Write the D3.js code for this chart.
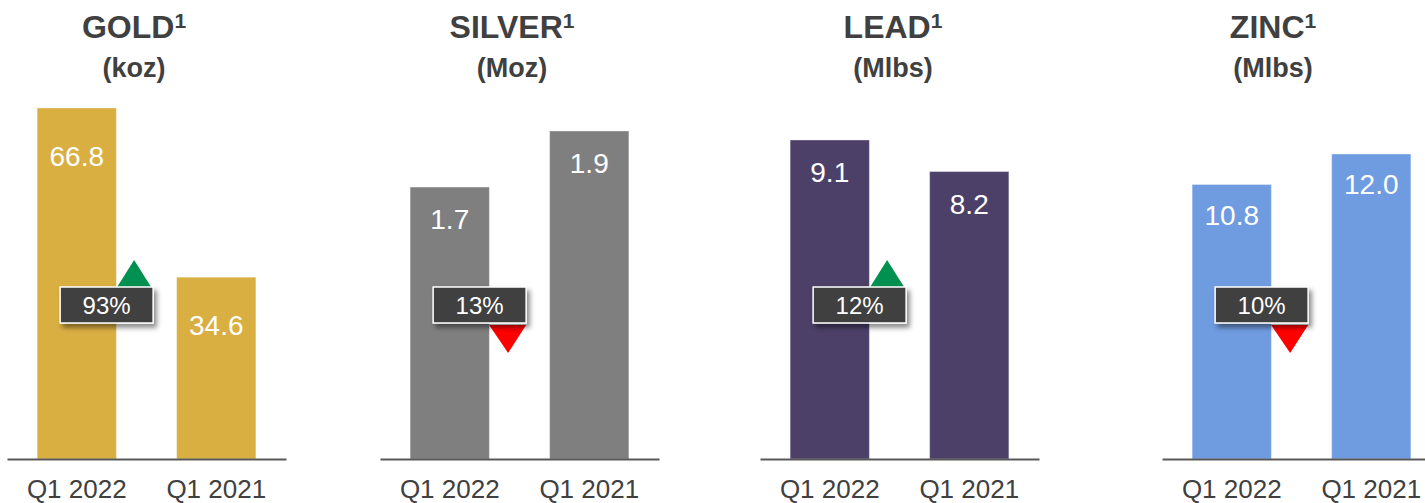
<!DOCTYPE html>
<html>
<head>
<meta charset="utf-8">
<script src="https://cdn.jsdelivr.net/npm/d3@7"></script>
<style>
  body { margin: 0; background: #fff; }
  text { font-family: "Liberation Sans", Arial, sans-serif; }
</style>
</head>
<body>
<div id="canvas"></div>
<script>
const width = 1425;
const height = 503;

// data
const metals = ["GOLD", "SILVER", "LEAD", "ZINC"];
const units = ["(koz)", "(Moz)", "(Mlbs)", "(Mlbs)"];
const periods = ["Q1 2022", "Q1 2021"];
const q1_2022 = [66.8, 1.7, 9.1, 10.8];
const q1_2021 = [34.6, 1.9, 8.2, 12.0];
const changePct = [93, -13, 12, -10];

const colors = ["#D9AF42", "#7F7F7F", "#4C4069", "#6F9CE0"];

// layout of each small panel
const panelLeft = [7, 380, 760, 1162];
const panelWidth = 279;
const titleX = [134, 512, 893, 1273];
const barTop = [108, 131, 140, 154];
const domainMin = [0, 0.73, 0, 0];
const labelDrop = [58, 42, 42, 40];
const baseline = 459;

const svg = d3.select("#canvas")
    .append("svg")
    .attr("width", width)
    .attr("height", height);

// shadow for the % boxes
const shadow = svg.append("defs").append("filter")
    .attr("id", "shadow")
    .attr("x", "-20%").attr("y", "-20%")
    .attr("width", "150%").attr("height", "160%");
shadow.append("feDropShadow")
    .attr("dx", 3)
    .attr("dy", 4)
    .attr("stdDeviation", 2.5)
    .attr("flood-color", "#000")
    .attr("flood-opacity", 0.45);

const fmt = d3.format(".1f");

metals.forEach(function(metal, i) {
    const vals = [q1_2022[i], q1_2021[i]];
    const g = svg.append("g").attr("transform", `translate(${panelLeft[i]},0)`);

    const x = d3.scaleBand()
        .domain(periods)
        .range([0, panelWidth])
        .paddingInner(0.432)
        .paddingOuter(0.216);

    const y = d3.scaleLinear()
        .domain([domainMin[i], d3.max(vals)])
        .range([baseline, barTop[i]]);

    // title
    const tx = titleX[i] - panelLeft[i];
    const title = g.append("text")
        .attr("x", tx)
        .attr("y", 38)
        .attr("text-anchor", "middle")
        .attr("font-size", 32)
        .attr("font-weight", "bold")
        .attr("fill", "#404040");
    title.append("tspan").text(metal);
    title.append("tspan")
        .attr("font-size", 21)
        .attr("dy", -10)
        .text("1");

    g.append("text")
        .attr("x", tx)
        .attr("y", 77)
        .attr("text-anchor", "middle")
        .attr("font-size", 27)
        .attr("font-weight", "bold")
        .attr("fill", "#404040")
        .text(units[i]);

    // bars
    g.selectAll(".bar")
        .data(vals)
        .join("rect")
        .attr("class", "bar")
        .attr("x", (d, j) => x(periods[j]))
        .attr("y", d => y(d))
        .attr("width", x.bandwidth())
        .attr("height", d => baseline - y(d))
        .attr("fill", colors[i])
        .attr("stroke", "#ffffff")
        .attr("stroke-opacity", 0.35)
        .attr("stroke-width", 1);

    g.selectAll(".val")
        .data(vals)
        .join("text")
        .attr("class", "val")
        .attr("x", (d, j) => x(periods[j]) + x.bandwidth() / 2)
        .attr("y", d => y(d) + labelDrop[i])
        .attr("text-anchor", "middle")
        .attr("font-size", 28)
        .attr("fill", "#ffffff")
        .text(d => fmt(d));

    // x axis
    const axis = g.append("g")
        .attr("transform", `translate(0,${baseline})`)
        .call(d3.axisBottom(x).tickSize(0).tickPadding(21));
    axis.select(".domain")
        .attr("stroke", "#595959")
        .attr("stroke-width", 2);
    axis.selectAll(".tick text")
        .attr("font-family", "Liberation Sans, Arial, sans-serif")
        .attr("font-size", 26)
        .attr("fill", "#404040");

    // change badge
    const bx = x(periods[0]) + 23;
    const by = 287;
    const bw = 93;
    const bh = 36;
    const up = changePct[i] > 0;

    if (up) {
        g.append("path")
            .attr("d", `M${bx + bw - 36},${by} L${bx + bw - 2},${by} L${bx + bw - 19},${by - 27}Z`)
            .attr("fill", "#00904F");
    } else {
        g.append("path")
            .attr("d", `M${bx + bw - 37},${by + bh + 2} L${bx + bw},${by + bh + 2} L${bx + bw - 18},${by + bh + 30}Z`)
            .attr("fill", "#FF0000");
    }

    g.append("rect")
        .attr("x", bx)
        .attr("y", by)
        .attr("width", bw)
        .attr("height", bh)
        .attr("fill", "#404040")
        .attr("stroke", "#ffffff")
        .attr("stroke-width", 1.5)
        .attr("filter", "url(#shadow)");

    g.append("text")
        .attr("x", bx + bw / 2)
        .attr("y", by + 27)
        .attr("text-anchor", "middle")
        .attr("font-size", 24)
        .attr("fill", "#ffffff")
        .text(Math.abs(changePct[i]) + "%");
});
</script>
</body>
</html>
